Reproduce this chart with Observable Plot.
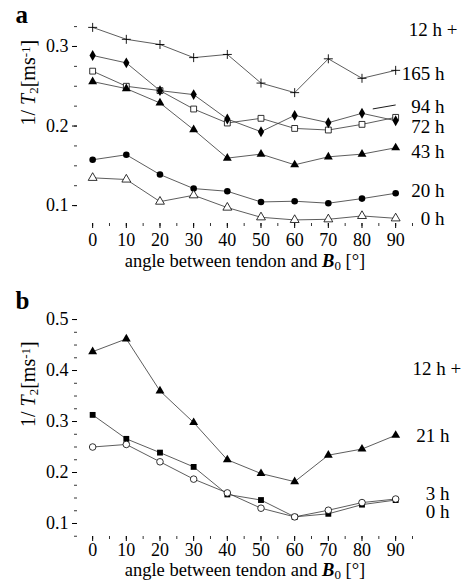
<!DOCTYPE html>
<html><head><meta charset="utf-8">
<script src="https://cdn.jsdelivr.net/npm/d3@7"></script>
<script src="https://cdn.jsdelivr.net/npm/@observablehq/plot@0.6"></script>
<style>
body{margin:0;background:#fff;}
#chart{position:relative;width:465px;height:584px;font-family:"Liberation Serif","DejaVu Serif",serif;}
#chart svg{display:block;overflow:visible;}
#chart svg text{font-family:"Liberation Serif","DejaVu Serif",serif !important;}
.panel{position:absolute;left:0;}
</style>
</head><body><div id="chart"><div id="pa" class="panel" style="top:0"></div><div id="pb" class="panel" style="top:280px"></div></div>
<script>
const angles = [0, 10, 20, 30, 40, 50, 60, 70, 80, 90];

// panel a : 1/T2 [ms^-1]
const a165h = [0.324, 0.309, 0.3025, 0.286, 0.290, 0.254, 0.242, 0.2845, 0.260, 0.270];
const a94h  = [0.269, 0.250, 0.2445, 0.2214, 0.2038, 0.2097, 0.197, 0.195, 0.2021, 0.2109];
const a72h  = [0.2887, 0.2794, 0.2445, 0.2395, 0.2088, 0.1929, 0.2134, 0.2042, 0.216, 0.2067];
const a43h  = [0.2559, 0.247, 0.229, 0.1954, 0.1597, 0.1647, 0.1513, 0.1613, 0.1647, 0.1727];
const a20h  = [0.1576, 0.1639, 0.139, 0.1214, 0.118, 0.1046, 0.1055, 0.103, 0.1088, 0.1155];
const a0h   = [0.1349, 0.1328, 0.105, 0.113, 0.0975, 0.0853, 0.082, 0.0828, 0.087, 0.084];

// panel b
const b21h = [0.437, 0.462, 0.360, 0.298, 0.225, 0.198, 0.182, 0.234, 0.246, 0.273];
const b3h  = [0.313, 0.266, 0.239, 0.211, 0.157, 0.146, 0.113, 0.119, 0.137, 0.146];
const b0h  = [0.250, 0.255, 0.221, 0.187, 0.160, 0.130, 0.113, 0.126, 0.141, 0.148];

const xTicks = [0, 10, 20, 30, 40, 50, 60, 70, 80, 90];
const aYTicks = [0.1, 0.2, 0.3];
const bYTicks = [0.1, 0.2, 0.3, 0.4, 0.5];

// series label annotations (text, x angle, y value, anchor)
const aLabels = [
  {t: "12 h +", x: 93.9, y: 0.321, a: "start"},
  {t: "165 h", x: 104.5, y: 0.266, a: "end"},
  {t: "94 h", x: 104.5, y: 0.2245, a: "end"},
  {t: "72 h", x: 104.5, y: 0.1994, a: "end"},
  {t: "43 h", x: 104.5, y: 0.167, a: "end"},
  {t: "20 h", x: 104.5, y: 0.118, a: "end"},
  {t: "0 h", x: 104.5, y: 0.0836, a: "end"}
];
const aLeader = [{x1: 83.2, y1: 0.2215, x2: 90, y2: 0.2265}];
const bLabels = [
  {t: "12 h +", x: 95, y: 0.404, a: "start"},
  {t: "21 h", x: 106, y: 0.2725, a: "end"},
  {t: "3 h", x: 106, y: 0.158, a: "end"},
  {t: "0 h", x: 106, y: 0.122, a: "end"}
];

const seriesA = [
  {v: a165h, sym: "plus", fill: "none", stroke: "#000"},
  {v: a94h, sym: "square", fill: "#fff", stroke: "#000"},
  {v: a72h, sym: "diamond", fill: "#000", stroke: "none"},
  {v: a43h, sym: "triangle", fill: "#000", stroke: "none"},
  {v: a20h, sym: "circle", fill: "#000", stroke: "none"},
  {v: a0h, sym: "triangle", fill: "#fff", stroke: "#000"}
];
const seriesB = [
  {v: b21h, sym: "triangle", fill: "#000", stroke: "none"},
  {v: b3h, sym: "square", fill: "#000", stroke: "none"},
  {v: b0h, sym: "circle", fill: "#fff", stroke: "#000"}
];

const XLABEL = "angle between tendon and B0 [°]";
const YLABEL = "1/ T2[ms-1]";
const FONT = "Liberation Serif";

function seriesMarks(series) {
  const marks = [];
  for (const s of series) {
    const rows = angles.map((a, i) => ({x: a, y: s.v[i]}));
    marks.push(Plot.line(rows, {x: "x", y: "y", stroke: "#333", strokeWidth: 0.8}));
  }
  for (const s of series) {
    const rows = angles.map((a, i) => ({x: a, y: s.v[i]}));
    marks.push(Plot.dot(rows, {x: "x", y: "y", symbol: () => s.sym, r: s.sym === "plus" ? 3 : 3.3,
      fill: s.fill, stroke: s.stroke, strokeWidth: s.sym === "plus" ? 0.9 : 0.8}));
  }
  return marks;
}

function panel(opts) {
  const minorY = d3.range(Math.ceil(opts.yd[0] / 0.025), Math.floor(opts.yd[1] / 0.025) + 1).map(k => k * 0.025);
  const minorX = d3.range(-5, 96, 5).filter(v => v >= opts.xd[0] && v <= opts.xd[1]);
  const startL = opts.labels.filter(d => d.a === "start");
  const endL = opts.labels.filter(d => d.a === "end");
  return Plot.plot({
    width: 465, height: opts.height,
    marginLeft: 77, marginRight: 53, marginTop: opts.mt, marginBottom: opts.mb,
    style: {fontFamily: FONT, fontSize: "18px", color: "#000", background: "#fff", overflow: "visible"},
    x: {domain: opts.xd, axis: null},
    y: {domain: opts.yd, axis: null},
    marks: [
      Plot.axisX({ticks: minorX, tickSize: 3, text: null, label: null, strokeWidth: 0.8}),
      Plot.axisX({ticks: xTicks, tickSize: 5, tickPadding: opts.xpad, fontSize: 18, fontFamily: FONT, label: null, line: true, strokeWidth: 1}),
      Plot.axisY({ticks: minorY, tickSize: 3, text: null, label: null, strokeWidth: 0.8}),
      Plot.axisY({ticks: opts.yt, tickSize: 5, tickPadding: 4, fontSize: 18, fontFamily: FONT, label: null, line: true, strokeWidth: 1, tickFormat: d3.format(".1f")}),
      ...seriesMarks(opts.series),
      Plot.text(startL, {x: "x", y: "y", text: "t", textAnchor: "start", fontSize: 19, fontFamily: FONT, clip: false}),
      Plot.text(endL, {x: "x", y: "y", text: "t", textAnchor: "end", fontSize: 19, fontFamily: FONT, clip: false}),
      ...(opts.leader ? [Plot.link(opts.leader, {x1: "x1", y1: "y1", x2: "x2", y2: "y2", stroke: "#000", strokeWidth: 0.9})] : []),
      Plot.text([XLABEL], {frameAnchor: "bottom", dy: opts.xlabDy, fontSize: 18.5, fontFamily: FONT}),
      Plot.text([YLABEL], {frameAnchor: "left", dx: -49, dy: opts.ylabDy, rotate: -90, fontSize: 20, fontFamily: FONT}),
      Plot.text([opts.letter], {frameAnchor: "top-left", dx: -62, dy: opts.letterDy, fontSize: 25, fontWeight: "bold", fontFamily: FONT})
    ]
  });
}

function richify(svg) {
  d3.select(svg).selectAll("text").each(function() {
    const el = d3.select(this);
    const txt = this.textContent;
    if (txt === XLABEL) {
      el.text(null);
      el.append("tspan").text("angle between tendon and ");
      el.append("tspan").attr("font-weight", "bold").attr("font-style", "italic").text("B");
      el.append("tspan").attr("font-size", "13px").attr("baseline-shift", "-25%").text("0");
      el.append("tspan").text(" [°]");
    } else if (txt === YLABEL) {
      el.text(null);
      el.append("tspan").text("1/ ");
      el.append("tspan").attr("font-style", "italic").text("T");
      el.append("tspan").attr("font-size", "13px").attr("baseline-shift", "-25%").text("2");
      el.append("tspan").text("[ms");
      el.append("tspan").attr("font-size", "13px").attr("baseline-shift", "40%").text("-1");
      el.append("tspan").text("]");
    }
  });
}

const pa = panel({height: 280, mt: 7, mb: 57, xd: [-4.5, 95], yd: [0.0775, 0.349], yt: aYTicks,
  series: seriesA, labels: aLabels, leader: aLeader, xpad: 5, xlabDy: 43, ylabDy: 10, letter: "a", letterDy: -2});
richify(pa);
document.getElementById("pa").appendChild(pa);

const pb = panel({height: 304, mt: 37, mb: 48, xd: [-4.5, 95], yd: [0.0745, 0.504], yt: bYTicks,
  series: seriesB, labels: bLabels, xpad: 2, xlabDy: 39.5, ylabDy: 0, letter: "b", letterDy: -26});
richify(pb);
document.getElementById("pb").appendChild(pb);
</script>
</body></html>
